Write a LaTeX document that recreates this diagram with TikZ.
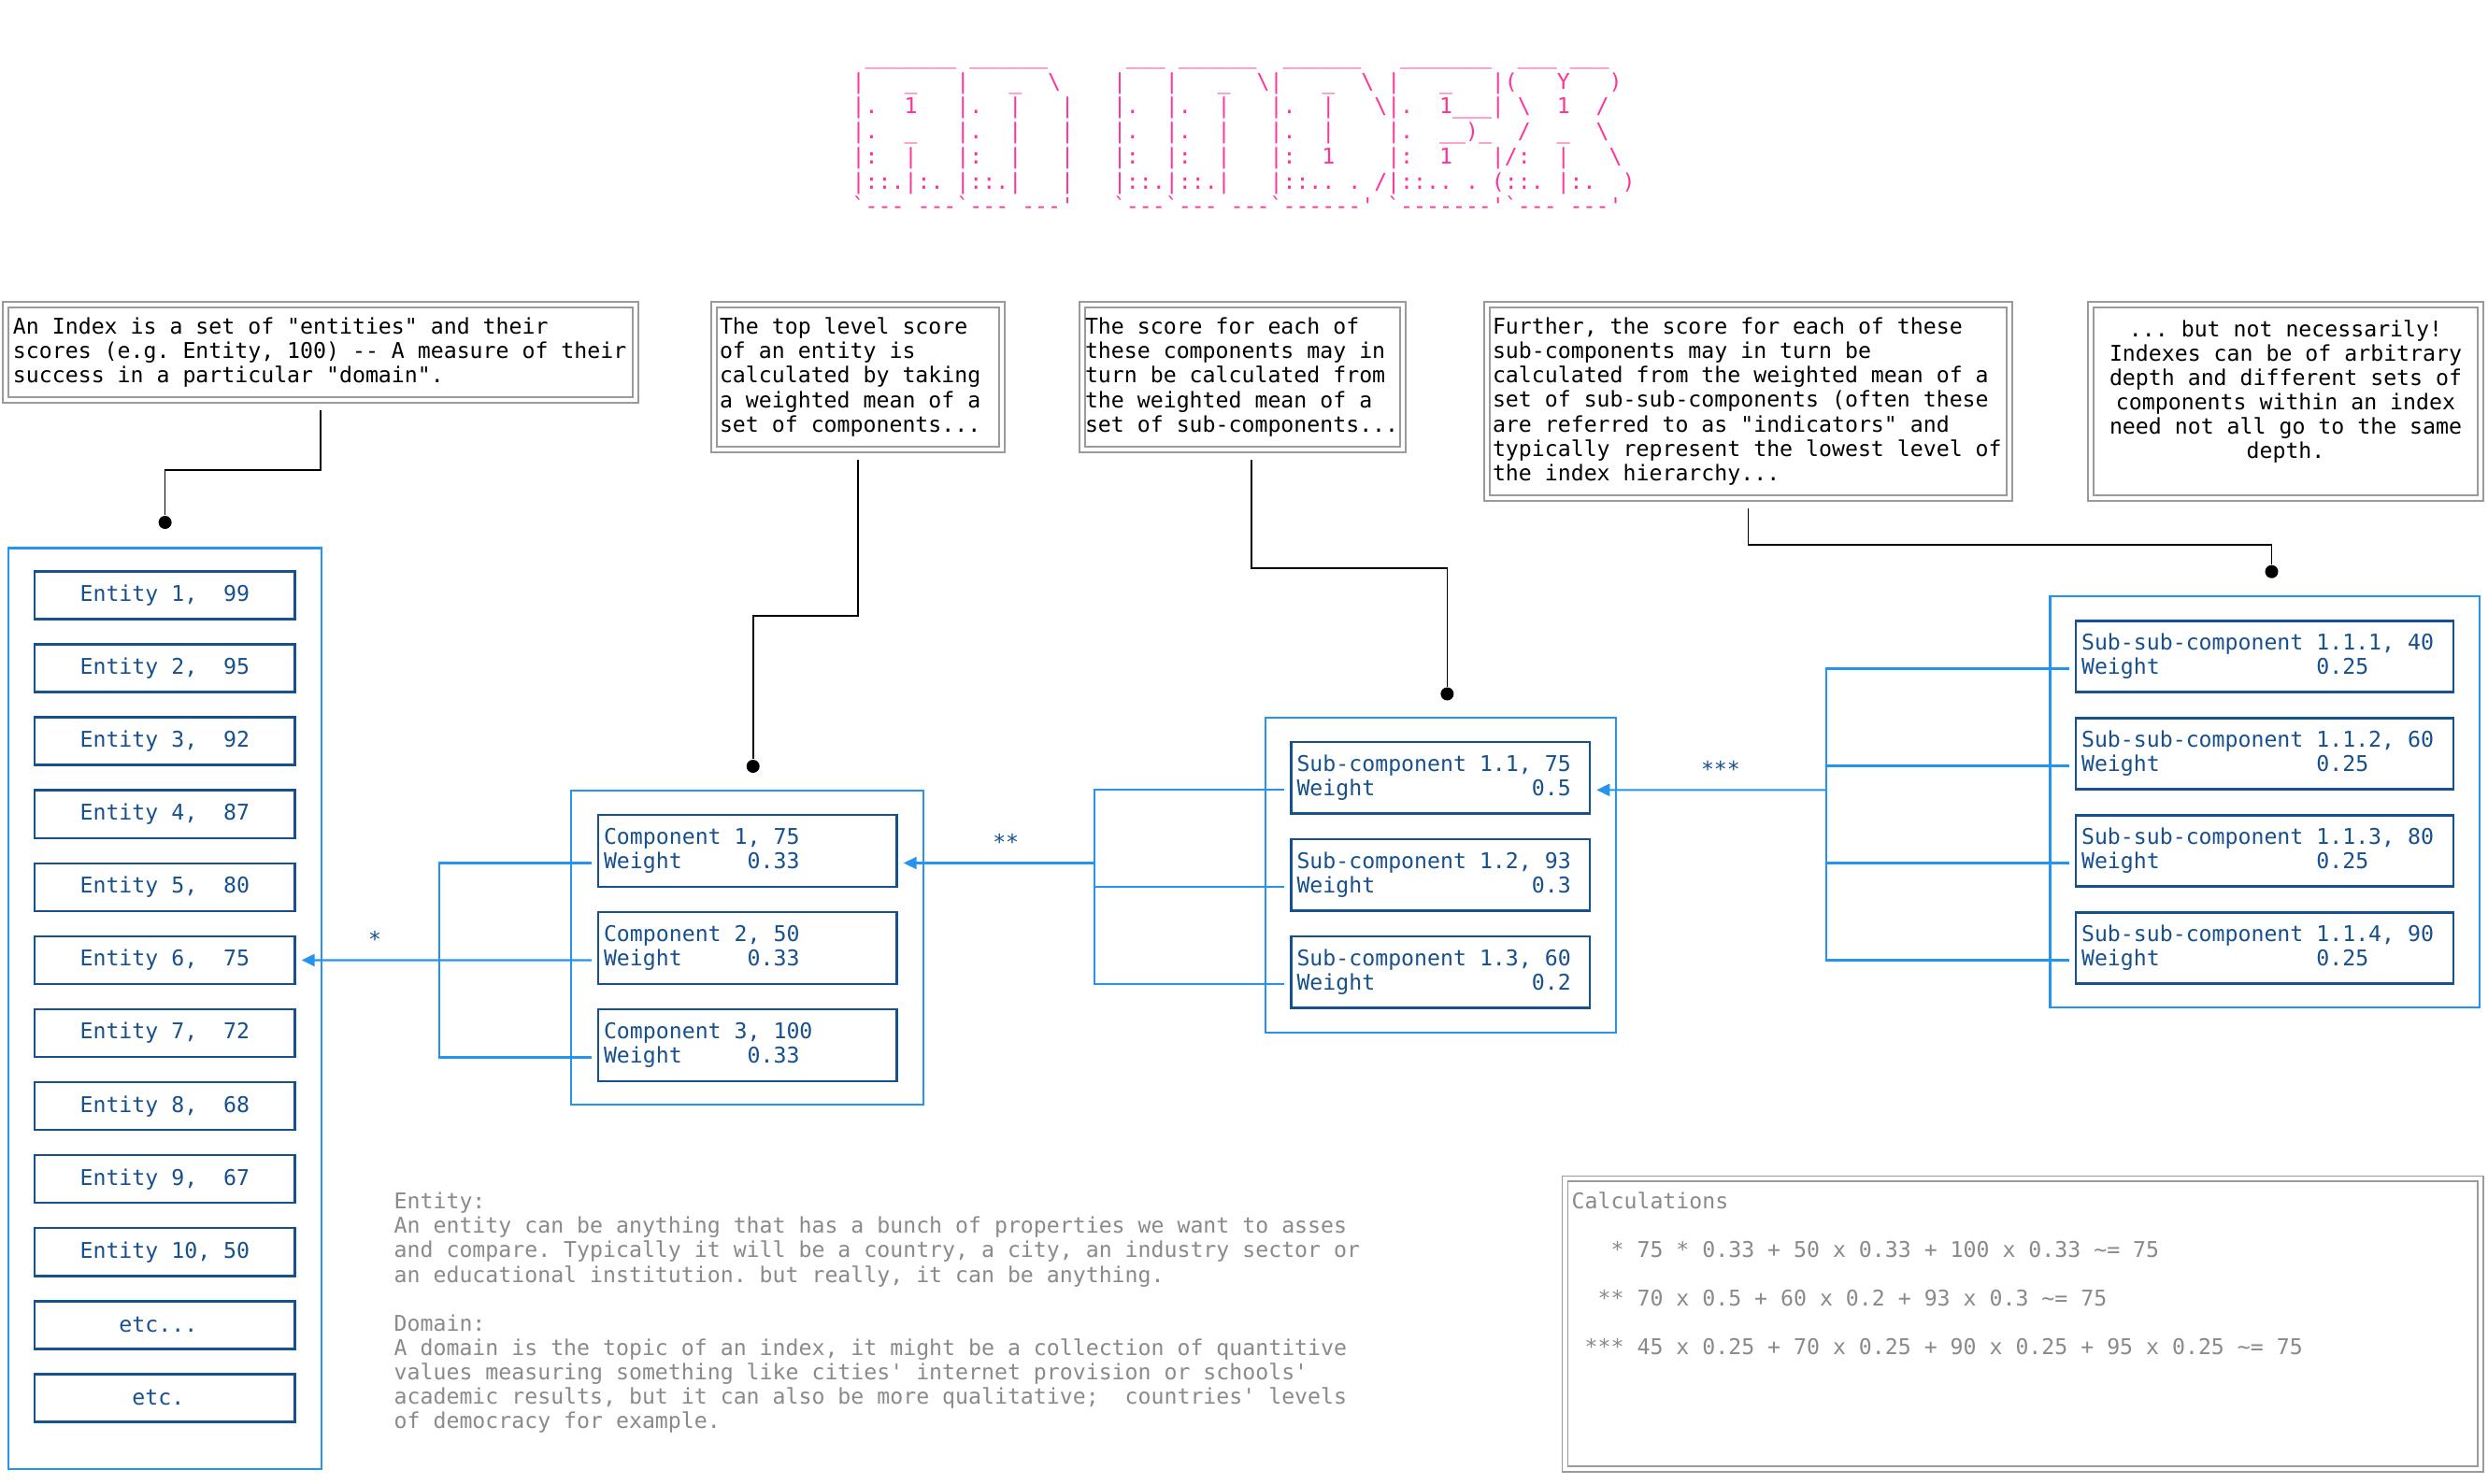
\documentclass[tikz,border=0pt]{standalone}
\usepackage{fontspec}
\setmonofont{DejaVu Sans Mono}
\usetikzlibrary{arrows.meta, positioning, calc}

\definecolor{titlepink}{HTML}{FF3399}
\definecolor{inkblue}{HTML}{17508E}
\definecolor{lineblue}{HTML}{2494F0}
\definecolor{notegray}{HTML}{8A8A8A}
\definecolor{framegray}{HTML}{9A9A9A}

\newcommand{\monotext}{\fontsize{6.6pt}{7.43pt}\selectfont\ttfamily\frenchspacing}
\newcommand{\bs}{\textbackslash}

\begin{document}
\begin{tikzpicture}[
    every node/.style={font=\monotext},
    notebox/.style={draw=framegray, double, double distance=1.2pt, line width=0.45pt, align=flush left, inner xsep=0.06cm, inner ysep=0pt},
    groupbox/.style={draw=lineblue, line width=0.6pt, inner sep=0pt},
    entbox/.style={draw=inkblue, line width=0.7pt, text=inkblue, minimum width=2.783cm, minimum height=0.511cm, inner sep=0pt},
    itembox/.style={draw=inkblue, line width=0.7pt, text=inkblue, align=flush left, text width=3.075cm, inner xsep=0.06cm, inner ysep=0pt, minimum height=0.766cm},
    bluelink/.style={draw=lineblue, line width=0.6pt},
    arrow/.style={bluelink, -{Triangle[length=0.14cm, width=0.13cm]}, shorten >=0.06cm},
    leader/.style={draw=black, line width=0.45pt},
    leaddot/.style={circle, fill=black, inner sep=0pt, minimum size=0.14cm},
    starlabel/.style={text=inkblue, inner sep=0pt, above=0.13cm, pos=0.45},
    titleline/.style={anchor=base west, inner sep=0pt, text=titlepink},
    plaintext/.style={anchor=base west, inner sep=0pt, align=flush left, text=notegray}
]

% Page
\fill[white] (0,0) rectangle (26.62,-15.88);

% ============ TITLE ============
\node[titleline] (title1) at (9.11,-0.686) {~\_\_\_\_\_\_\_~\_\_\_\_\_\_~~~~~~\_\_\_~\_\_\_\_\_\_~~\_\_\_\_\_\_~~~\_\_\_\_\_\_\_~~\_\_\_~\_\_\_};
\node[titleline] (title2) at (9.11,-0.953) {|~~~\_~~~|~~~\_~~\bs~~~~|~~~|~~~\_~~\bs|~~~\_~~\bs~|~~~\_~~~|(~~~Y~~~)};
\node[titleline] (title3) at (9.11,-1.220) {|.~~1~~~|.~~|~~~|~~~|.~~|.~~|~~~|.~~|~~~\bs|.~~1\_\_\_|~\bs~~1~~/};
\node[titleline] (title4) at (9.11,-1.487) {|.~~\_~~~|.~~|~~~|~~~|.~~|.~~|~~~|.~~|~~~~|.~~\_\_)\_~~/~~\_~~\bs};
\node[titleline] (title5) at (9.11,-1.754) {|:~~|~~~|:~~|~~~|~~~|:~~|:~~|~~~|:~~1~~~~|:~~1~~~|/:~~|~~~\bs};
\node[titleline] (title6) at (9.11,-2.021) {|::.|:.~|::.|~~~|~~~|::.|::.|~~~|::..~.~/|::..~.~(::.~|:.~~)};
\node[titleline] (title7) at (9.11,-2.288) {`---~---`---~---'~~~`---`---~---`------'~`-------'`---~---'};

% ============ NOTES ============
\node[notebox, text width=6.58cm, inner xsep=0.08cm, minimum height=1.02cm] (note1) at (3.43,-3.77) {An Index is a set of "entities" and their\\scores (e.g. Entity, 100) -- A measure of their\\success in a particular "domain".};
\node[notebox, text width=2.96cm, minimum height=1.55cm] (note2) at (9.18,-4.035) {The top level score\\of an entity is\\calculated by taking\\a weighted mean of a\\set of components...};
\node[notebox, text width=3.37cm, inner xsep=0.03cm, minimum height=1.55cm] (note3) at (13.295,-4.035) {The score for each of\\these components may in\\turn be calculated from\\the weighted mean of a\\set of sub-components...};
\node[notebox, text width=5.47cm, minimum height=2.07cm] (note4) at (18.705,-4.295) {Further, the score for each of these\\sub-components may in turn be\\calculated from the weighted mean of a\\set of sub-sub-components (often these\\are referred to as "indicators" and\\typically represent the lowest level of\\the index hierarchy...};
\node[notebox, text width=3.85cm, inner xsep=0.16cm, minimum height=2.07cm, align=flush center] (note5) at (24.455,-4.295) {... but not necessarily!\\Indexes can be of arbitrary\\depth and different sets of\\components within an index\\need not all go to the same\\depth.\\\mbox{}};

% ============ ENTITIES ============
\node[groupbox, minimum width=3.347cm, minimum height=9.853cm] (entities) at (1.7665,-10.7915) {};
\node[entbox] (e1) at (1.7635,-6.369) {Entity 1,~~99};
\node[entbox] (e2) at (1.7635,-7.150) {Entity 2,~~95};
\node[entbox] (e3) at (1.7635,-7.931) {Entity 3,~~92};
\node[entbox] (e4) at (1.7635,-8.712) {Entity 4,~~87};
\node[entbox] (e5) at (1.7635,-9.493) {Entity 5,~~80};
\node[entbox] (e6) at (1.7635,-10.274) {Entity 6,~~75};
\node[entbox] (e7) at (1.7635,-11.055) {Entity 7,~~72};
\node[entbox] (e8) at (1.7635,-11.836) {Entity 8,~~68};
\node[entbox] (e9) at (1.7635,-12.617) {Entity 9,~~67};
\node[entbox] (e10) at (1.7635,-13.398) {Entity 10,~50};
\node[entbox] (e11) at (1.7635,-14.179) {etc...\phantom{.}};
\node[entbox] (e12) at (1.7635,-14.960) {etc.\phantom{.}};

% ============ COMPONENTS ============
\node[groupbox, minimum width=3.766cm, minimum height=3.363cm] (components) at (7.993,-10.1415) {};
\node[itembox] (c1) at (7.9975,-9.105) {Component 1, 75\\Weight~~~~~0.33};
\node[itembox] (c2) at (7.9975,-10.145) {Component 2, 50\\Weight~~~~~0.33};
\node[itembox] (c3) at (7.9975,-11.185) {Component 3, 100\\Weight~~~~~0.33};

% ============ SUB-COMPONENTS ============
\node[groupbox, minimum width=3.749cm, minimum height=3.364cm] (subcomponents) at (15.4125,-9.365) {};
\node[itembox] (s1) at (15.4125,-8.323) {Sub-component 1.1, 75\\Weight~~~~~~~~~~~~0.5};
\node[itembox] (s2) at (15.4125,-9.363) {Sub-component 1.2, 93\\Weight~~~~~~~~~~~~0.3};
\node[itembox] (s3) at (15.4125,-10.403) {Sub-component 1.3, 60\\Weight~~~~~~~~~~~~0.2};

% ============ SUB-SUB-COMPONENTS ============
\node[groupbox, minimum width=4.595cm, minimum height=4.40cm] (subsubcomponents) at (24.2325,-8.583) {};
\node[itembox, text width=3.922cm, minimum height=0.76cm] (ss1) at (24.231,-7.025) {Sub-sub-component 1.1.1, 40\\Weight~~~~~~~~~~~~0.25};
\node[itembox, text width=3.922cm, minimum height=0.76cm] (ss2) at (24.231,-8.065) {Sub-sub-component 1.1.2, 60\\Weight~~~~~~~~~~~~0.25};
\node[itembox, text width=3.922cm, minimum height=0.76cm] (ss3) at (24.231,-9.105) {Sub-sub-component 1.1.3, 80\\Weight~~~~~~~~~~~~0.25};
\node[itembox, text width=3.922cm, minimum height=0.76cm] (ss4) at (24.231,-10.145) {Sub-sub-component 1.1.4, 90\\Weight~~~~~~~~~~~~0.25};

% ============ WEIGHTED MEAN LINKS ============
\coordinate (jc) at (4.70,-10.275);
\coordinate (js) at (11.707,-9.235);
\coordinate (jss) at (19.544,-8.453);

% Components to entity
\draw[bluelink, shorten <=0.06cm] ([yshift=-0.13cm]c1.west) -| (jc);
\draw[bluelink, shorten <=0.06cm] ([yshift=-0.13cm]c2.west) -- (jc);
\draw[bluelink, shorten <=0.06cm] ([yshift=-0.13cm]c3.west) -| (jc);
\draw[arrow] (jc) -- node[starlabel] {*} (e6);

% Sub-components to component
\draw[bluelink, shorten <=0.06cm] ([yshift=-0.13cm]s1.west) -| (js);
\draw[bluelink, shorten <=0.06cm] ([yshift=-0.13cm]s2.west) -| (js);
\draw[bluelink, shorten <=0.06cm] ([yshift=-0.13cm]s3.west) -| (js);
\draw[arrow] (js) -- node[starlabel] {**} ([yshift=-0.13cm]c1.east);

% Sub-sub-components to sub-component
\foreach \n in {1,...,4}
    \draw[bluelink, shorten <=0.06cm] ([yshift=-0.13cm]ss\n.west) -| (jss);
\draw[arrow] (jss) -- node[starlabel] {***} ([yshift=-0.13cm]s1.east);

% ============ LEADERS ============
\node[leaddot] (d1) at (1.766,-5.59) {};
\node[leaddot] (d2) at (8.057,-8.20) {};
\node[leaddot] (d3) at (15.484,-7.425) {};
\node[leaddot] (d4) at (24.305,-6.117) {};

\draw[leader] ([yshift=-0.10cm]note1.south) -- ++(0,-0.643) -| (d1);
\draw[leader] ([yshift=-0.10cm]note2.south) -- ++(0,-1.673) -| (d2);
\draw[leader] ([xshift=0.095cm, yshift=-0.10cm]note3.south) -- ++(0,-1.163) -| (d3);
\draw[leader] ([yshift=-0.10cm]note4.south) -- ++(0,-0.39) -| (d4);

% ============ GLOSSARY ============
\node[plaintext, text width=10.4cm] (glossary) at (4.21,-12.937) {Entity:\\An entity can be anything that has a bunch of properties we want to asses\\and compare. Typically it will be a country, a city, an industry sector or\\an educational institution. but really, it can be anything.\\[7.43pt]Domain:\\A domain is the topic of an index, it might be a collection of quantitive\\values measuring something like cities' internet provision or schools'\\academic results, but it can also be more qualitative;~~countries' levels\\of democracy for example.};

% ============ CALCULATIONS ============
\node[notebox, minimum width=9.793cm, minimum height=3.107cm] (calcbox) at (21.6415,-14.1665) {};
\node[plaintext, text width=7.9cm] (calculations) at (16.81,-12.93) {Calculations\\[7.43pt]~~~* 75 * 0.33 + 50 x 0.33 + 100 x 0.33 \textasciitilde= 75\\[7.43pt]~~** 70 x 0.5 + 60 x 0.2 + 93 x 0.3 \textasciitilde= 75\\[7.43pt]~*** 45 x 0.25 + 70 x 0.25 + 90 x 0.25 + 95 x 0.25 \textasciitilde= 75};

\end{tikzpicture}
\end{document}
